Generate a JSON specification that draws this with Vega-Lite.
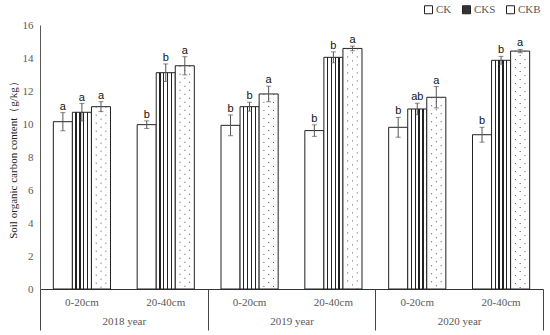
{
  "$schema": "https://vega.github.io/schema/vega-lite/v6.json",
  "width": 503,
  "height": 264,
  "autosize": "none",
  "padding": {"left": 40, "top": 25, "right": 7, "bottom": 46},
  "background": "white",
  "config": {
    "view": {"stroke": null},
    "font": "Liberation Serif",
    "axisY": {
      "grid": false, "ticks": false, "labelOverlap": false, "labelBound": false,
      "domainColor": "#595959", "labelColor": "#595959", "labelFont": "Liberation Serif",
      "labelFontSize": 11, "labelPadding": 7, "titleFont": "Liberation Serif",
      "titleFontSize": 11, "titleFontWeight": "normal", "titleColor": "#222", "titlePadding": 4
    }
  },
  "data": {
    "values": [
      {"year": "2018 year", "depth": "0-20cm", "t": "CK", "v": 10.14, "lo": 9.59, "hi": 10.69, "sig": "a"},
      {"year": "2018 year", "depth": "0-20cm", "t": "CKS", "v": 10.71, "lo": 10.18, "hi": 11.24, "sig": "a"},
      {"year": "2018 year", "depth": "0-20cm", "t": "CKB", "v": 11.05, "lo": 10.75, "hi": 11.35, "sig": "a"},
      {"year": "2018 year", "depth": "20-40cm", "t": "CK", "v": 9.96, "lo": 9.73, "hi": 10.19, "sig": "b"},
      {"year": "2018 year", "depth": "20-40cm", "t": "CKS", "v": 13.11, "lo": 12.58, "hi": 13.64, "sig": "b"},
      {"year": "2018 year", "depth": "20-40cm", "t": "CKB", "v": 13.53, "lo": 12.98, "hi": 14.08, "sig": "a"},
      {"year": "2019 year", "depth": "0-20cm", "t": "CK", "v": 9.92, "lo": 9.29, "hi": 10.55, "sig": "b"},
      {"year": "2019 year", "depth": "0-20cm", "t": "CKS", "v": 11.05, "lo": 10.78, "hi": 11.32, "sig": "b"},
      {"year": "2019 year", "depth": "0-20cm", "t": "CKB", "v": 11.82, "lo": 11.35, "hi": 12.29, "sig": "a"},
      {"year": "2019 year", "depth": "20-40cm", "t": "CK", "v": 9.6, "lo": 9.25, "hi": 9.95, "sig": "b"},
      {"year": "2019 year", "depth": "20-40cm", "t": "CKS", "v": 14.04, "lo": 13.71, "hi": 14.37, "sig": "b"},
      {"year": "2019 year", "depth": "20-40cm", "t": "CKB", "v": 14.58, "lo": 14.44, "hi": 14.72, "sig": "a"},
      {"year": "2020 year", "depth": "0-20cm", "t": "CK", "v": 9.8, "lo": 9.2, "hi": 10.4, "sig": "b"},
      {"year": "2020 year", "depth": "0-20cm", "t": "CKS", "v": 10.91, "lo": 10.56, "hi": 11.26, "sig": "ab"},
      {"year": "2020 year", "depth": "0-20cm", "t": "CKB", "v": 11.62, "lo": 10.97, "hi": 12.27, "sig": "a"},
      {"year": "2020 year", "depth": "20-40cm", "t": "CK", "v": 9.35, "lo": 8.9, "hi": 9.8, "sig": "b"},
      {"year": "2020 year", "depth": "20-40cm", "t": "CKS", "v": 13.86, "lo": 13.62, "hi": 14.1, "sig": "b"},
      {"year": "2020 year", "depth": "20-40cm", "t": "CKB", "v": 14.42, "lo": 14.32, "hi": 14.52, "sig": "a"}
    ]
  },
  "transform": [{"calculate": "datum.year + '|' + datum.depth", "as": "grp"}],
  "layer": [
    {
      "layer": [
        {
          "mark": {"type": "bar", "strokeWidth": 1, "stroke": "#222"},
          "encoding": {
            "x": {
              "field": "grp", "type": "nominal",
              "scale": {"paddingInner": 0, "paddingOuter": 0},
              "axis": {
                "orient": "bottom", "title": null, "labelExpr": "split(datum.label, '|')[1]",
                "ticks": false, "domainColor": "#333", "labelFont": "Liberation Serif",
                "labelFontSize": 11, "labelColor": "#595959", "labelPadding": 7, "labelAngle": 0
              }
            },
            "xOffset": {
              "field": "t", "type": "nominal",
              "scale": {"domain": ["CK", "CKS", "CKB"], "paddingInner": 0, "paddingOuter": 0.7}
            },
            "y": {
              "field": "v", "type": "quantitative",
              "scale": {"domain": [0, 16], "nice": false},
              "axis": {"values": [0, 2, 4, 6, 8, 10, 12, 14, 16], "labelOverlap": false, "title": "Soil organic carbon content（g/kg）"}
            },
            "fill": {
              "condition": {
                "test": "datum.t === 'CKS'",
                "value": {"gradient": "linear", "x1": 0, "y1": 0, "x2": 1, "y2": 0, "stops": [
                  {"offset": 0, "color": "white"}, {"offset": 0.16, "color": "white"},
                  {"offset": 0.16, "color": "#222"}, {"offset": 0.23, "color": "#222"},
                  {"offset": 0.23, "color": "white"}, {"offset": 0.36, "color": "white"},
                  {"offset": 0.36, "color": "#222"}, {"offset": 0.43, "color": "#222"},
                  {"offset": 0.43, "color": "white"}, {"offset": 0.56, "color": "white"},
                  {"offset": 0.56, "color": "#222"}, {"offset": 0.63, "color": "#222"},
                  {"offset": 0.63, "color": "white"}, {"offset": 0.76, "color": "white"},
                  {"offset": 0.76, "color": "#222"}, {"offset": 0.83, "color": "#222"},
                  {"offset": 0.83, "color": "white"}, {"offset": 1, "color": "white"}
                ]}
              },
              "value": "white"
            }
          }
        },
        {
          "mark": {"type": "square", "opacity": 0},
          "encoding": {
            "x": {"field": "grp", "type": "nominal"},
            "y": {"field": "v", "type": "quantitative", "axis": {"values": [0, 2, 4, 6, 8, 10, 12, 14, 16], "labelOverlap": false, "title": "Soil organic carbon content（g/kg）"}},
            "fill": {
              "field": "t", "type": "nominal",
              "scale": {"domain": ["CK", "CKS", "CKB"], "range": ["white", "#333", "white"]},
              "legend": {
                "orient": "none", "legendX": 383, "legendY": -21, "direction": "horizontal",
                "title": null, "symbolType": "square", "symbolSize": 64, "symbolOpacity": 1,
                "symbolStrokeColor": "#222", "symbolStrokeWidth": 1,
                "labelFont": "Liberation Serif", "labelFontSize": 11, "labelColor": "#595959",
                "columnPadding": 8, "labelOffset": 2
              }
            }
          }
        },
        {
          "transform": [{"filter": "datum.t === 'CKB'"}],
          "mark": {"type": "rule", "strokeDash": [1, 7], "color": "#555", "strokeWidth": 1},
          "encoding": {
            "x": {"field": "grp", "type": "nominal", "bandPosition": 0.671},
            "y": {"field": "v", "type": "quantitative", "axis": {"values": [0, 2, 4, 6, 8, 10, 12, 14, 16], "labelOverlap": false, "title": "Soil organic carbon content（g/kg）"}},
            "y2": {"datum": 0}
          }
        },
        {
          "transform": [{"filter": "datum.t === 'CKB'"}],
          "mark": {"type": "rule", "strokeDash": [1, 7], "color": "#555", "strokeWidth": 1},
          "encoding": {
            "x": {"field": "grp", "type": "nominal", "bandPosition": 0.785},
            "y": {"field": "v", "type": "quantitative", "axis": {"values": [0, 2, 4, 6, 8, 10, 12, 14, 16], "labelOverlap": false, "title": "Soil organic carbon content（g/kg）"}},
            "y2": {"datum": 0}
          }
        },
        {
          "transform": [{"filter": "datum.t === 'CKB'"}],
          "mark": {"type": "rule", "strokeDash": [1, 7], "strokeDashOffset": 4, "color": "#555", "strokeWidth": 1},
          "encoding": {
            "x": {"field": "grp", "type": "nominal", "bandPosition": 0.728},
            "y": {"field": "v", "type": "quantitative", "axis": {"values": [0, 2, 4, 6, 8, 10, 12, 14, 16], "labelOverlap": false, "title": "Soil organic carbon content（g/kg）"}},
            "y2": {"datum": 0}
          }
        },
        {
          "mark": {"type": "rule", "color": "#555", "strokeWidth": 1},
          "encoding": {
            "x": {"field": "grp", "type": "nominal"},
            "xOffset": {"field": "t", "type": "nominal"},
            "y": {"field": "lo", "type": "quantitative", "axis": {"values": [0, 2, 4, 6, 8, 10, 12, 14, 16], "labelOverlap": false, "title": "Soil organic carbon content（g/kg）"}},
            "y2": {"field": "hi"}
          }
        },
        {
          "mark": {"type": "tick", "color": "#555", "size": 5, "thickness": 1},
          "encoding": {
            "x": {"field": "grp", "type": "nominal"},
            "xOffset": {"field": "t", "type": "nominal"},
            "y": {"field": "lo", "type": "quantitative", "axis": {"values": [0, 2, 4, 6, 8, 10, 12, 14, 16], "labelOverlap": false, "title": "Soil organic carbon content（g/kg）"}}
          }
        },
        {
          "mark": {"type": "tick", "color": "#555", "size": 5, "thickness": 1},
          "encoding": {
            "x": {"field": "grp", "type": "nominal"},
            "xOffset": {"field": "t", "type": "nominal"},
            "y": {"field": "hi", "type": "quantitative", "axis": {"values": [0, 2, 4, 6, 8, 10, 12, 14, 16], "labelOverlap": false, "title": "Soil organic carbon content（g/kg）"}}
          }
        },
        {
          "mark": {"type": "text", "font": "Liberation Sans", "fontSize": 11, "color": "#111", "baseline": "alphabetic", "dy": -3},
          "encoding": {
            "x": {"field": "grp", "type": "nominal"},
            "xOffset": {"field": "t", "type": "nominal"},
            "y": {"field": "hi", "type": "quantitative", "axis": {"values": [0, 2, 4, 6, 8, 10, 12, 14, 16], "labelOverlap": false, "title": "Soil organic carbon content（g/kg）"}},
            "text": {"field": "sig"}
          }
        }
      ]
    },
    {
      "mark": {"type": "rule", "strokeOpacity": 0},
      "encoding": {
        "x": {
          "field": "year", "type": "nominal",
          "scale": {"paddingInner": 0, "paddingOuter": 0},
          "axis": {
            "orient": "bottom", "title": null, "tickBand": "extent", "tickSize": 41,
            "tickColor": "#444", "domain": false, "labelPadding": -15,
            "labelFont": "Liberation Serif", "labelFontSize": 11, "labelColor": "#595959", "labelAngle": 0
          }
        }
      }
    }
  ],
  "resolve": {"scale": {"x": "independent"}}
}
